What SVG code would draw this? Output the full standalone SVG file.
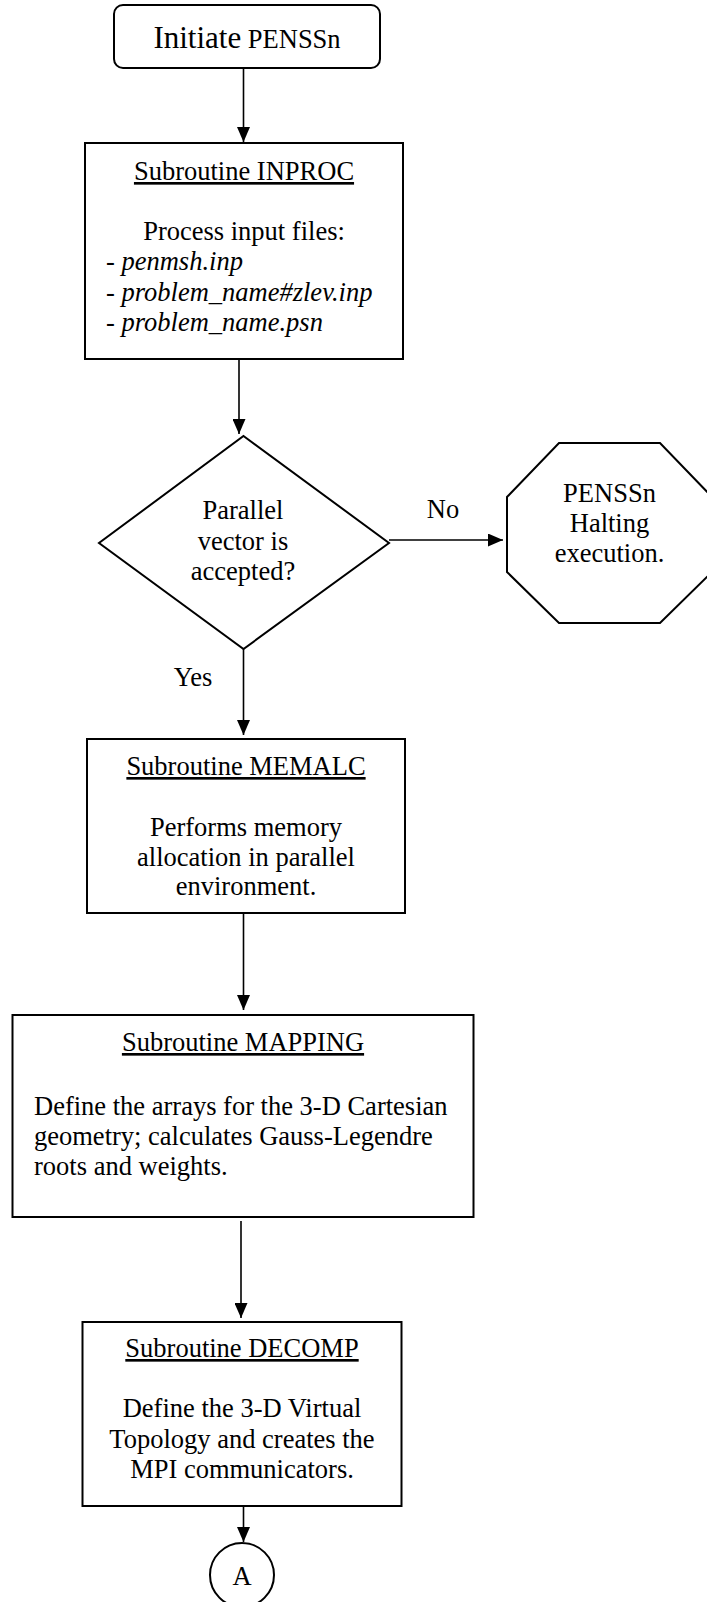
<svg xmlns="http://www.w3.org/2000/svg" width="707" height="1602" viewBox="0 0 707 1602">
<style>
.shape{fill:#fff;stroke:#000;stroke-width:2}
.conn{fill:none;stroke:#000;stroke-width:1.6}
text{font-family:"Liberation Serif","Times New Roman",serif;font-size:26.5px;fill:#000}
.c{text-anchor:middle}
.u{text-decoration:underline}
.i{font-style:italic}
</style>
<defs>
<marker id="arr" viewBox="0 0 15 13" refX="15" refY="6.5" markerWidth="15" markerHeight="13" markerUnits="userSpaceOnUse" orient="auto">
<path d="M0,0 L15,6.5 L0,13 z" fill="#000"/>
</marker>
</defs>
<rect width="707" height="1602" fill="#fff"/>
<g id="connectors">
<line class="conn" x1="243.5" y1="68" x2="243.5" y2="142" marker-end="url(#arr)"/>
<line class="conn" x1="239" y1="359" x2="239" y2="434" marker-end="url(#arr)"/>
<line class="conn" x1="389" y1="540" x2="503" y2="540" marker-end="url(#arr)"/>
<line class="conn" x1="243.5" y1="649" x2="243.5" y2="735" marker-end="url(#arr)"/>
<line class="conn" x1="243.5" y1="913" x2="243.5" y2="1010" marker-end="url(#arr)"/>
<line class="conn" x1="241" y1="1221" x2="241" y2="1318" marker-end="url(#arr)"/>
<line class="conn" x1="243.5" y1="1506" x2="243.5" y2="1542" marker-end="url(#arr)"/>
<text class="c" x="443" y="518">No</text>
<text class="c" x="193" y="686">Yes</text>
</g>
<g id="start">
<rect class="shape" x="114" y="5" width="266" height="63" rx="9"/>
<text class="c" x="247" y="48"><tspan font-size="31">Initiate</tspan> PENSSn</text>
</g>
<g id="inproc">
<rect class="shape" x="85" y="143" width="318" height="216"/>
<text class="c u" x="244" y="180">Subroutine INPROC</text>
<text class="c" x="244" y="240">Process input files:</text>
<text x="106" y="270">- <tspan class="i">penmsh.inp</tspan></text>
<text x="106" y="301">- <tspan class="i">problem_name#zlev.inp</tspan></text>
<text x="106" y="331">- <tspan class="i">problem_name.psn</tspan></text>
</g>
<g id="decision">
<polygon class="shape" points="243.5,436 389,543 243.5,649 99,543"/>
<text class="c" x="243" y="519">Parallel</text>
<text class="c" x="243" y="550">vector is</text>
<text class="c" x="243" y="580">accepted?</text>
</g>
<g id="halt">
<polygon class="shape" points="559,443 660,443 712,497 712,572 660,623 559,623 507,572 507,497"/>
<text class="c" x="609.5" y="502">PENSSn</text>
<text class="c" x="609.5" y="532">Halting</text>
<text class="c" x="609.5" y="562">execution.</text>
</g>
<g id="memalc">
<rect class="shape" x="87" y="739" width="318" height="174"/>
<text class="c u" x="246" y="775">Subroutine MEMALC</text>
<text class="c" x="246" y="836">Performs memory</text>
<text class="c" x="246" y="866">allocation in parallel</text>
<text class="c" x="246" y="895">environment.</text>
</g>
<g id="mapping">
<rect class="shape" x="12.5" y="1015" width="461" height="202"/>
<text class="c u" x="243" y="1051">Subroutine MAPPING</text>
<text x="34" y="1115">Define the arrays for the 3-D Cartesian</text>
<text x="34" y="1145">geometry; calculates Gauss-Legendre</text>
<text x="34" y="1175">roots and weights.</text>
</g>
<g id="decomp">
<rect class="shape" x="82.5" y="1322" width="319" height="184"/>
<text class="c u" x="242" y="1357">Subroutine DECOMP</text>
<text class="c" x="242" y="1417">Define the 3-D Virtual</text>
<text class="c" x="242" y="1448">Topology and creates the</text>
<text class="c" x="242" y="1478">MPI communicators.</text>
</g>
<g id="connectorA">
<circle class="shape" cx="242" cy="1575" r="32"/>
<text class="c" x="242" y="1585">A</text>
</g>
</svg>
